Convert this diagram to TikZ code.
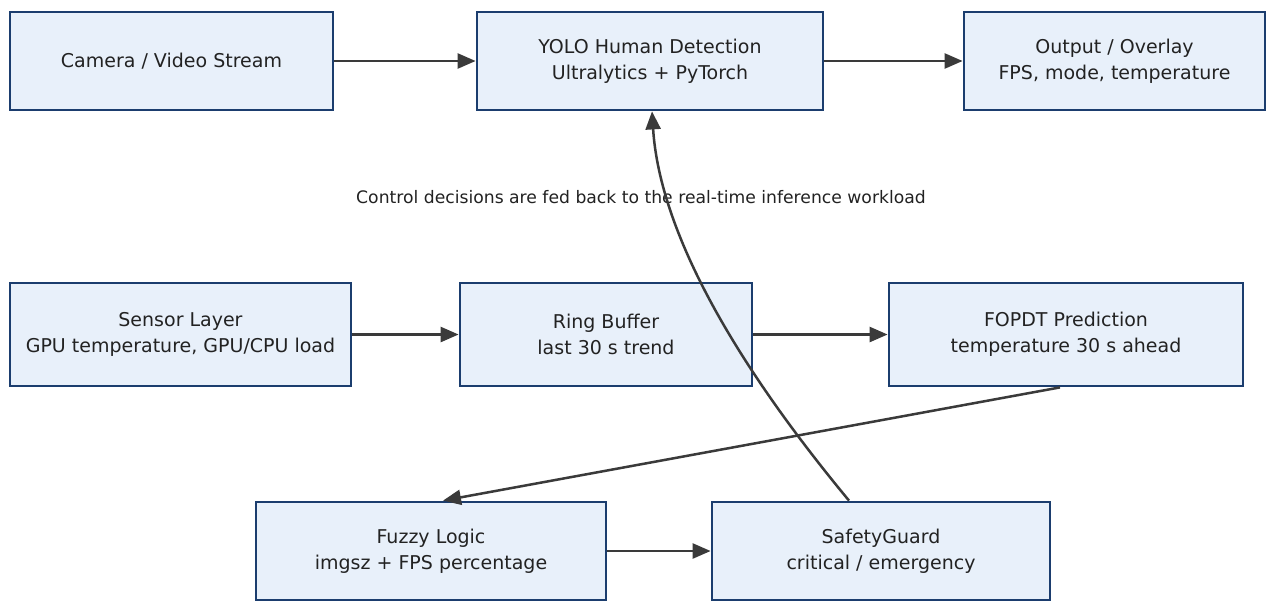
\documentclass[tikz,border=0pt]{standalone}
\usepackage{fontspec}
\setmainfont{DejaVu Sans}
\usetikzlibrary{arrows.meta}
\definecolor{boxfill}{HTML}{E8F0FA}
\definecolor{boxline}{HTML}{1B3D6E}
\definecolor{wire}{HTML}{3A3A3A}
\definecolor{ink}{HTML}{222222}
\begin{document}
\begin{tikzpicture}[x=1pt,y=-1pt,
  stage/.style={draw=boxline, fill=boxfill, line width=2.8pt, minimum height=98pt,
    align=center, text=ink, font=\fontsize{19}{26}\selectfont, inner sep=0pt},
  flow/.style={draw=wire, line width=2.5pt, -{Triangle[length=18pt,width=15pt]}},
  note/.style={text=ink, font=\fontsize{17.2}{20}\selectfont}]
\useasboundingbox[fill=white] (0,0) rectangle (1268,603);

% pipeline of the inference workload
\node[stage, minimum width=323pt] (cam) at (171.5,61) {Camera / Video Stream};
\node[stage, minimum width=346pt] (yolo) at (650,61) {YOLO Human Detection\\Ultralytics + PyTorch};
\node[stage, minimum width=301pt] (out) at (1114.5,61) {Output / Overlay\\FPS, mode, temperature};

% thermal monitoring chain
\node[stage, minimum width=341pt, minimum height=103pt] (sensor) at (180.5,334.5) {Sensor Layer\\GPU temperature, GPU/CPU load};
\node[stage, minimum width=292pt, minimum height=103pt] (ring) at (606,334.5) {Ring Buffer\\last 30 s trend};
\node[stage, minimum width=354pt, minimum height=103pt] (fopdt) at (1066,334.5) {FOPDT Prediction\\temperature 30 s ahead};

% control stage
\node[stage, minimum width=350pt] (fuzzy) at (431,551) {Fuzzy Logic\\imgsz + FPS percentage};
\node[stage, minimum width=338pt] (guard) at (881,551) {SafetyGuard\\critical / emergency};

\node[note] (fb) at (641,197) {Control decisions are fed back to the real-time inference workload};

\draw[flow] (cam) -- (yolo);
\draw[flow] (yolo) -- (out);
\draw[flow] (sensor) -- (ring);
\draw[flow] (ring) -- (fopdt);
\draw[flow] ([xshift=-6pt]fopdt.south) -- ([xshift=12pt]fuzzy.north);
\draw[flow] (fuzzy) -- (guard);
\draw[flow] ([xshift=-32pt]guard.north) .. controls +(-145,-175) and +(6,95) .. ([xshift=2pt]yolo.south);
\end{tikzpicture}
\end{document}
